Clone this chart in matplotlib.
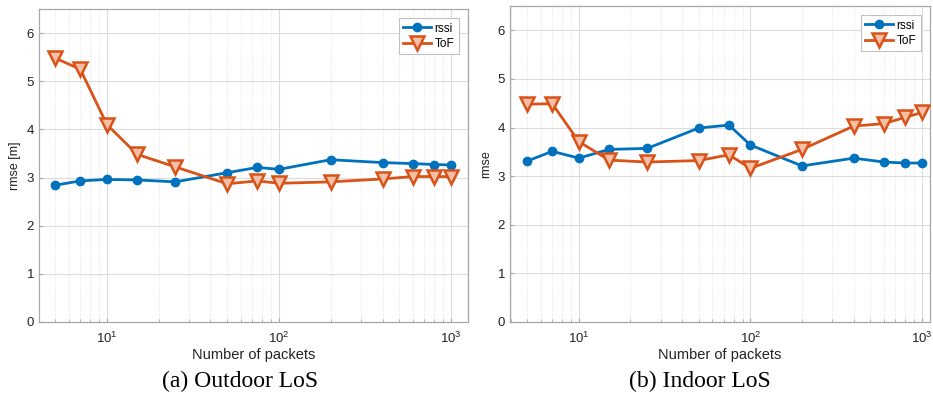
import matplotlib.pyplot as plt
import numpy as np

# Number of packets used for each estimate
packets = [5, 7, 10, 15, 25, 50, 75, 100, 200, 400, 600, 800, 1000]

# RMSE for the outdoor line-of-sight scenario
outdoor_rssi = [2.84, 2.93, 2.96, 2.95, 2.91, 3.10, 3.21, 3.17, 3.37, 3.31, 3.29, 3.27, 3.26]
outdoor_tof = [5.48, 5.25, 4.10, 3.48, 3.22, 2.87, 2.93, 2.88, 2.91, 2.97, 3.02, 3.02, 3.02]

# RMSE for the indoor line-of-sight scenario
indoor_rssi = [3.31, 3.51, 3.37, 3.55, 3.57, 3.99, 4.05, 3.64, 3.21, 3.37, 3.29, 3.27, 3.27]
indoor_tof = [4.48, 4.49, 3.71, 3.33, 3.29, 3.32, 3.44, 3.16, 3.55, 4.03, 4.08, 4.21, 4.31]

captions = ['(a) Outdoor LoS', '(b) Indoor LoS']
ylabels = ['rmse [m]', 'rmse']

BLUE = '#0072BD'
ORANGE = '#D95319'

plt.rcParams['font.family'] = ['Liberation Sans', 'DejaVu Sans']

fig = plt.figure(figsize=(9.33, 4.18), dpi=100)
ax_a = fig.add_axes([0.0418, 0.2297, 0.4598, 0.7488])
ax_b = fig.add_axes([0.5466, 0.2297, 0.4502, 0.7560])

panels = [
    (ax_a, outdoor_rssi, outdoor_tof, (4.03, 1256)),
    (ax_b, indoor_rssi, indoor_tof, (3.97, 1114)),
]

for i, (ax, rssi, tof, xlim) in enumerate(panels):
    ax.plot(packets, rssi, color=BLUE, lw=2.0, marker='o', ms=6,
            mfc=BLUE, mec=BLUE, label='rssi', zorder=3)
    ax.plot(packets, tof, color=ORANGE, lw=2.0, marker='v', ms=9.5,
            mfc='#f4bfa5', mec=ORANGE, mew=1.8, label='ToF', zorder=3)
    ax.set_xscale('log')
    ax.set_xlim(*xlim)
    ax.set_ylim(0, 6.5)
    ax.set_yticks(np.arange(0, 7, 1))

    ax.grid(True, which='major', color='#dcdcdc', lw=0.8, ls='-')
    ax.grid(True, which='minor', axis='x', color='#e0e0e0', lw=0.7, ls=':')
    ax.set_axisbelow(True)
    for s in ax.spines.values():
        s.set_color('#a8a8a8')
        s.set_linewidth(0.9)
    ax.tick_params(which='both', direction='in', length=3, color='#a8a8a8',
                   labelsize=9.5, labelcolor='#222222', top=False, right=False)
    ax.tick_params(which='minor', length=2)
    ax.tick_params(axis='x', pad=6)

    ax.set_xlabel('Number of packets', fontsize=10.5, color='#222222', labelpad=2)
    ax.set_ylabel(ylabels[i], fontsize=9, color='#222222', labelpad=4)

    leg = ax.legend(loc='upper right', fontsize=8.5, handlelength=2.4,
                    borderpad=0.35, labelspacing=0.3, handletextpad=0.3,
                    fancybox=False, framealpha=1, borderaxespad=0.8)
    leg.get_frame().set_edgecolor('#c0c0c0')
    leg.get_frame().set_linewidth(0.8)

fig.text(0.257, 0.088, captions[0], family='Liberation Serif', fontsize=17,
         ha='center', va='center')
fig.text(0.75, 0.088, captions[1], family='Liberation Serif', fontsize=17,
         ha='center', va='center')

fig.savefig('out.png', dpi=100)
